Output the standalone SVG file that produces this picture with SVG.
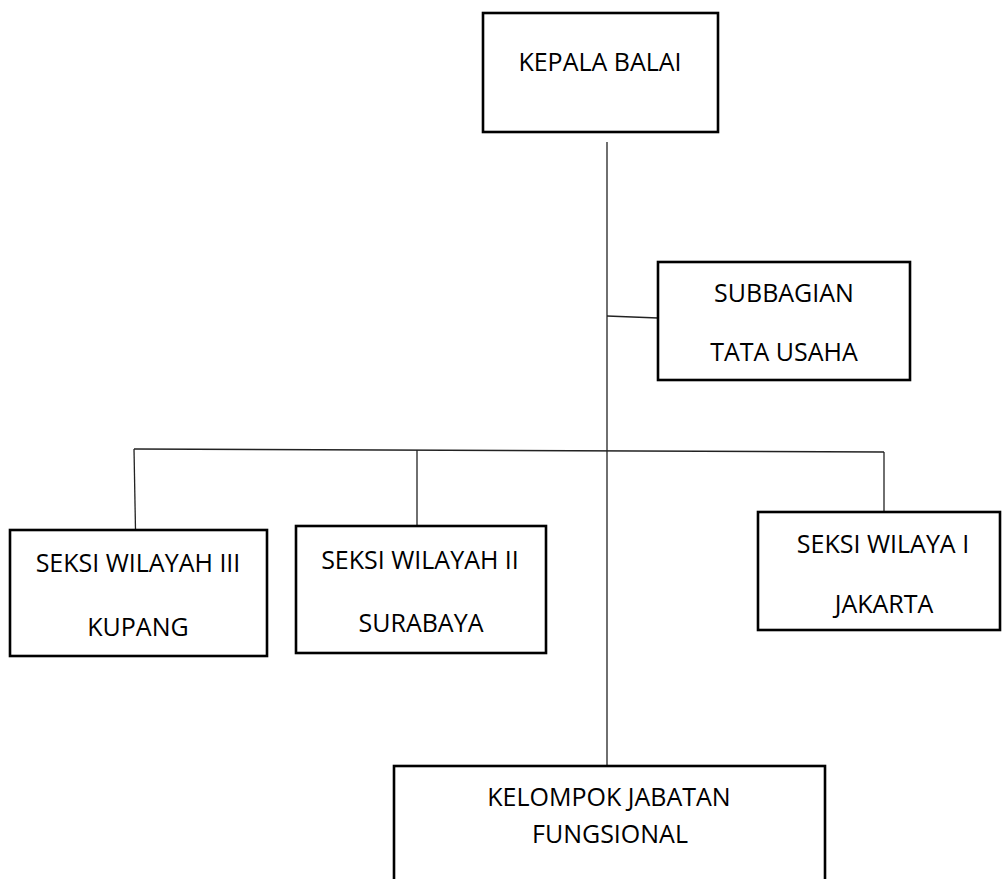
<svg xmlns="http://www.w3.org/2000/svg" width="1002" height="879" viewBox="0 0 1002 879">
<style>
.box{fill:#fff;stroke:#000;stroke-width:2.6}
.t{font-family:"Open Sans","Liberation Sans",sans-serif;font-size:25px;fill:#000;text-anchor:middle}
.c{stroke:#222;stroke-width:1.3;fill:none}
</style>
<rect width="1002" height="879" fill="#fff"/>
<g id="connectors">
<line class="c" x1="607" y1="142" x2="607" y2="766"/>
<line class="c" x1="607" y1="316" x2="658" y2="318"/>
<line class="c" x1="134" y1="449" x2="884" y2="452"/>
<line class="c" x1="134" y1="449" x2="135.5" y2="530"/>
<line class="c" x1="417" y1="450" x2="417" y2="526"/>
<line class="c" x1="884" y1="452" x2="884" y2="512"/>
</g>
<g id="kepala-balai">
<rect class="box" x="483" y="13" width="235" height="119"/>
<text class="t" x="600" y="71">KEPALA BALAI</text>
</g>
<g id="subbagian-tata-usaha">
<rect class="box" x="658" y="262" width="252" height="118"/>
<text class="t" x="784" y="302">SUBBAGIAN</text>
<text class="t" x="784" y="361">TATA USAHA</text>
</g>
<g id="seksi-wilayah-iii">
<rect class="box" x="10" y="530" width="257" height="126"/>
<text class="t" x="138" y="572">SEKSI WILAYAH III</text>
<text class="t" x="138" y="636">KUPANG</text>
</g>
<g id="seksi-wilayah-ii">
<rect class="box" x="296" y="526" width="250" height="127"/>
<text class="t" x="420" y="569">SEKSI WILAYAH II</text>
<text class="t" x="421" y="632">SURABAYA</text>
</g>
<g id="seksi-wilaya-i">
<rect class="box" x="758" y="512" width="242" height="118"/>
<text class="t" x="883" y="553">SEKSI WILAYA I</text>
<text class="t" x="884" y="613">JAKARTA</text>
</g>
<g id="kelompok-jabatan-fungsional">
<rect class="box" x="394" y="766" width="431" height="140"/>
<text class="t" x="609" y="806">KELOMPOK JABATAN</text>
<text class="t" x="610" y="843">FUNGSIONAL</text>
</g>
</svg>
